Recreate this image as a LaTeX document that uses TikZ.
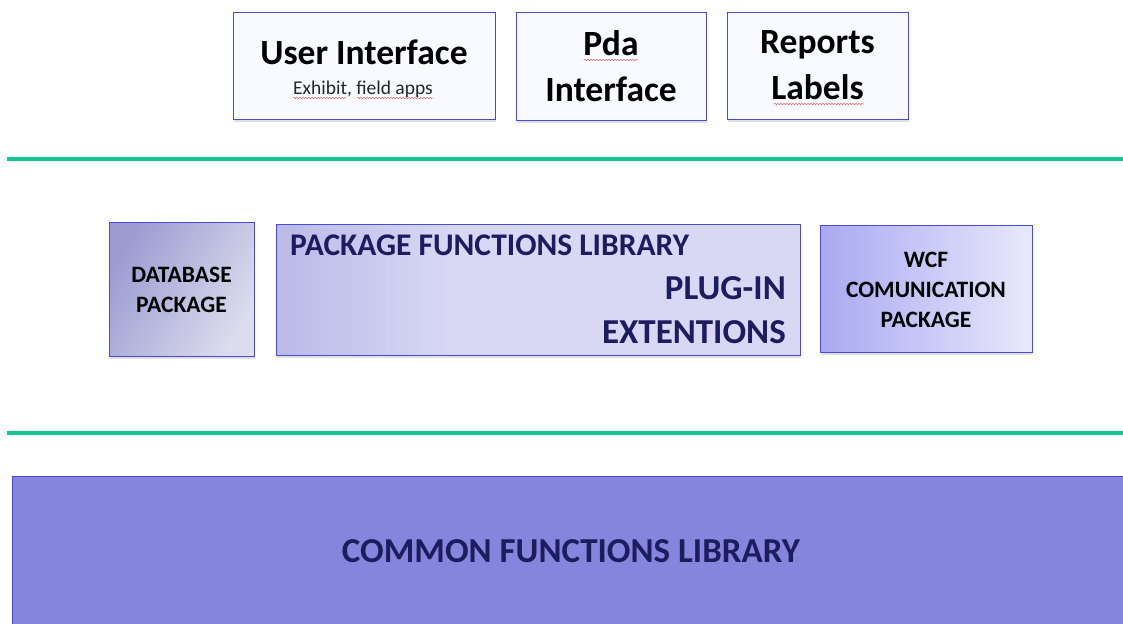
\documentclass[tikz,border=0pt]{standalone}
\usepackage{fontspec}
\setmainfont{Carlito}
\usetikzlibrary{shadows,decorations.pathmorphing,calc}
\definecolor{bordc}{HTML}{4A4AD6}
\definecolor{greenl}{HTML}{14C896}
\definecolor{navy}{HTML}{1C1C5E}
\definecolor{topfill}{HTML}{F8FAFF}
\definecolor{cfill}{HTML}{8585DE}
\definecolor{dbA}{HTML}{9C9CD2}
\definecolor{dbB}{HTML}{DCDCEE}
\definecolor{pkA}{HTML}{BABAE8}
\definecolor{pkB}{HTML}{D8D8F5}
\definecolor{wcA}{HTML}{A9A9F2}
\definecolor{wcB}{HTML}{E8E8FB}
\definecolor{squig}{HTML}{E86A6A}
\pgfdeclarehorizontalshading{pkgshade}{100bp}{color(0bp)=(pkA); color(25bp)=(pkA); color(42bp)=(pkB); color(100bp)=(pkB)}
\tikzset{
  box/.style={draw=bordc, line width=0.9pt, inner sep=0pt,
    drop shadow={shadow xshift=1pt, shadow yshift=-3pt, opacity=0.25}},
  topbox/.style={box, fill=topfill, align=center, font=\bfseries\fontsize{35.5}{46}\selectfont},
  midtext/.style={font=\bfseries\fontsize{23.5}{30}\selectfont, align=center},
  sep/.style={draw=greenl, line width=3.2pt},
  squiggle/.style={draw=squig, line width=0.5pt, decorate, decoration={snake, amplitude=0.8pt, segment length=3pt}}
}
\begin{document}
\begin{tikzpicture}[x=1pt,y=-1pt]
\clip (0,0) rectangle (1123,623);
\fill[white] (0,0) rectangle (1123,623);
% top row
\node[topbox, minimum width=262pt, minimum height=107pt] (ui) at (364,65.5) {};
\node[font=\bfseries\fontsize{35.5}{40}\selectfont] (uit) at (364,52) {User Interface};
\node[font=\fontsize{19.5}{22}\selectfont, text=black!85] (uis) at (363,89) {Exhibit, field apps};
\node[topbox, minimum width=190pt, minimum height=108pt] (pda) at (611,66) {Pda\\Interface};
\node[topbox, minimum width=181pt, minimum height=107pt] (rep) at (817.5,65.5) {Reports\\Labels};
\draw[squiggle] (293,98) -- (346,98);
\draw[squiggle] (357,98) -- (433,98);
\draw[squiggle] (584,60) -- (638,60);
\draw[squiggle] (774,104) -- (864,104);
% separators
\coordinate (s1a) at (7,159); \coordinate (s1b) at (1123,159);
\draw[sep] (s1a) -- (s1b);
\coordinate (s2a) at (7,433); \coordinate (s2b) at (1123,433);
\draw[sep] (s2a) -- (s2b);
% middle row
\node[box, minimum width=145pt, minimum height=134pt, left color=dbA, right color=dbB, shading angle=60] (db) at (181.5,289) {};
\node[midtext] (dbt) at (181.5,290) {DATABASE\\PACKAGE};
\node[box, minimum width=524pt, minimum height=131pt, shading=pkgshade] (pkg) at (538,289.5) {};
\node[font=\bfseries\fontsize{31.5}{34}\selectfont, text=navy, anchor=west, inner sep=0pt] (pkt) at (290,245) {PACKAGE FUNCTIONS LIBRARY};
\node[font=\bfseries\fontsize{35}{44}\selectfont, text=navy, anchor=east, align=right, inner sep=0pt] (plug) at (786,310) {PLUG-IN\\EXTENTIONS};
\node[box, minimum width=212pt, minimum height=127pt, left color=wcA, right color=wcB] (wcf) at (926,288.5) {};
\node[midtext] (wct) at (926,290) {WCF\\COMUNICATION\\PACKAGE};
% bottom
\node[box, fill=cfill, minimum width=1130pt, minimum height=160pt, anchor=north west] (com) at (12,476) {};
\node[font=\bfseries\fontsize{35}{38}\selectfont, text=navy] (comt) at (571,551) {COMMON FUNCTIONS LIBRARY};
\end{tikzpicture}
\end{document}
